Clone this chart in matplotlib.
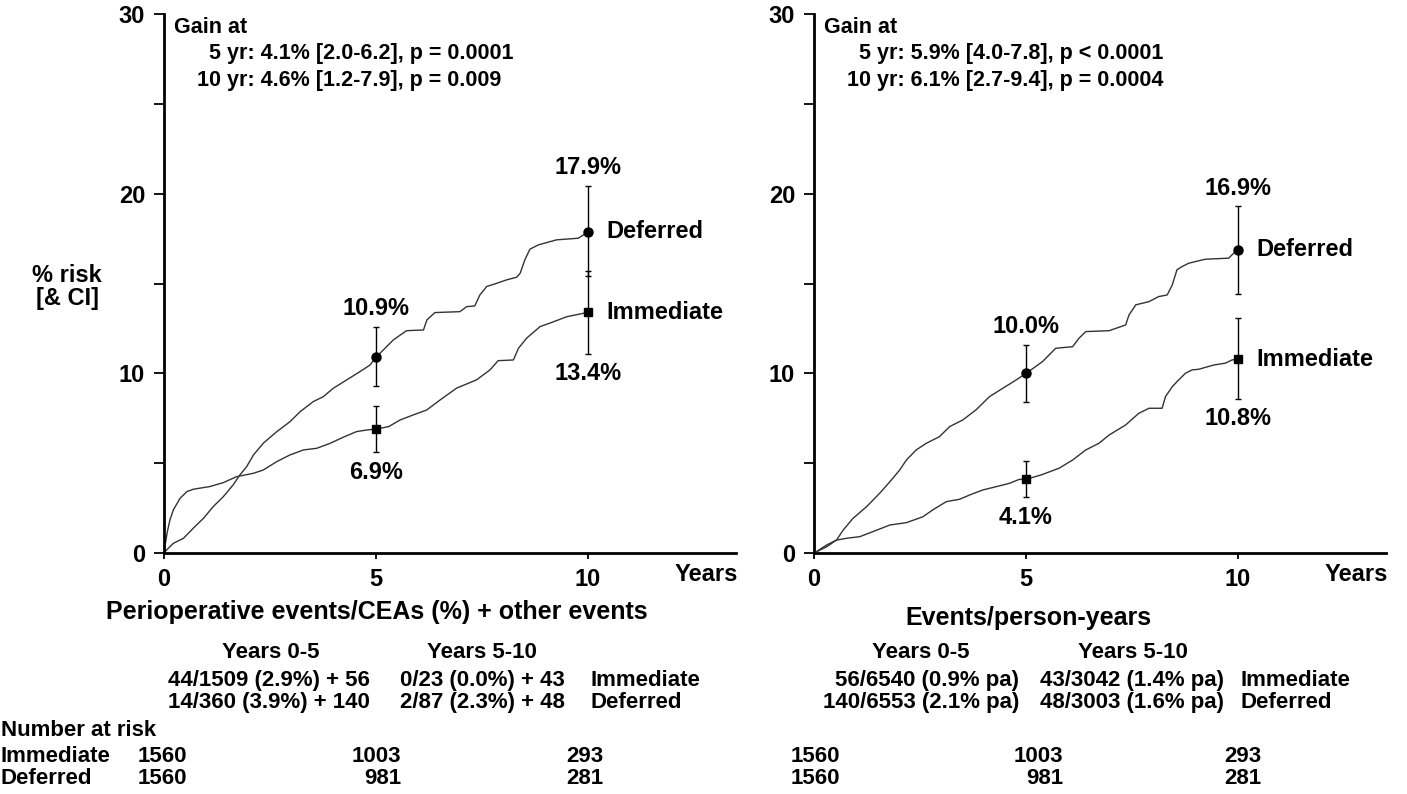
import numpy as np
import matplotlib
matplotlib.use('Agg')
import matplotlib.pyplot as plt

plt.rcParams['font.family'] = ['Liberation Sans', 'DejaVu Sans']
plt.rcParams['font.weight'] = 'bold'

# ---------------- data ----------------
# left panel: cumulative % risk
left_imm_t = [0, 0.02, 0.08, 0.14, 0.22, 0.38, 0.54, 0.69, 1.08, 1.40, 1.71, 2.11, 2.34, 2.66, 2.97,
              3.29, 3.60, 3.92, 4.23, 4.54, 4.78, 5.00, 5.30, 5.57, 5.88, 6.20, 6.51, 6.90, 7.37, 7.69,
              7.88, 8.24, 8.36, 8.55, 8.87, 9.10, 9.50, 9.81, 10.0]
left_imm_y = [0, 0.35, 1.2, 1.84, 2.4, 3.05, 3.42, 3.55, 3.70, 3.92, 4.25, 4.44, 4.62, 5.09, 5.46,
              5.74, 5.83, 6.11, 6.45, 6.76, 6.85, 6.9, 7.04, 7.41, 7.69, 7.97, 8.52, 9.18, 9.64, 10.2,
              10.71, 10.75, 11.4, 11.96, 12.61, 12.8, 13.16, 13.31, 13.4]
left_def_t = [0, 0.02, 0.22, 0.46, 0.69, 0.93, 1.16, 1.40, 1.63, 1.79, 1.95, 2.11, 2.34, 2.66, 2.97,
              3.21, 3.52, 3.76, 3.99, 4.31, 4.62, 4.86, 5.0, 5.41, 5.72, 6.12, 6.20, 6.39, 6.98, 7.14,
              7.33, 7.45, 7.61, 7.81, 8.08, 8.32, 8.40, 8.51, 8.63, 8.83, 9.26, 9.77, 9.93, 10.0]
left_def_y = [0, 0.07, 0.54, 0.82, 1.38, 1.93, 2.58, 3.14, 3.79, 4.35, 4.81, 5.46, 6.11, 6.76, 7.31,
              7.87, 8.43, 8.71, 9.17, 9.64, 10.1, 10.47, 10.9, 11.87, 12.38, 12.42, 12.98, 13.39, 13.44, 13.72,
              13.76, 14.37, 14.84, 14.99, 15.21, 15.36, 15.58, 16.32, 16.92, 17.16, 17.44, 17.53, 17.77, 17.9]

# right panel
right_def_t = [0, 0.02, 0.30, 0.53, 0.69, 0.92, 1.24, 1.55, 1.79, 2.02, 2.18, 2.41, 2.65, 2.96, 3.20,
               3.51, 3.82, 4.14, 4.45, 4.77, 5.0, 5.39, 5.70, 6.10, 6.25, 6.41, 6.96, 7.35, 7.43, 7.59,
               7.90, 8.13, 8.33, 8.45, 8.56, 8.68, 8.84, 9.23, 9.78, 9.90, 10.0]
right_def_y = [0, 0.02, 0.35, 0.72, 1.28, 1.93, 2.58, 3.33, 3.97, 4.62, 5.18, 5.74, 6.11, 6.48, 7.04,
               7.41, 7.97, 8.71, 9.17, 9.64, 10.0, 10.66, 11.40, 11.49, 11.96, 12.33, 12.38, 12.70, 13.26, 13.82,
               14.0, 14.28, 14.37, 14.93, 15.77, 15.95, 16.14, 16.36, 16.42, 16.70, 16.9]
right_imm_t = [0, 0.02, 0.30, 0.53, 0.77, 1.08, 1.39, 1.79, 2.18, 2.57, 2.80, 3.12, 3.43, 3.67, 3.98,
               4.29, 4.61, 4.84, 5.0, 5.36, 5.78, 6.10, 6.41, 6.72, 6.96, 7.35, 7.66, 7.90, 8.21, 8.29,
               8.45, 8.56, 8.76, 8.92, 9.07, 9.43, 9.70, 9.86, 10.0]
right_imm_y = [0, 0.02, 0.45, 0.72, 0.82, 0.91, 1.19, 1.56, 1.69, 2.02, 2.40, 2.86, 2.99, 3.23, 3.51,
               3.69, 3.88, 4.1, 4.1, 4.35, 4.72, 5.18, 5.74, 6.11, 6.57, 7.13, 7.78, 8.06, 8.06, 8.71,
               9.26, 9.54, 10.01, 10.2, 10.23, 10.47, 10.57, 10.75, 10.8]

# estimates at 5 and 10 years with confidence limits
est_years = [5, 10]
left_def_est, left_def_lo, left_def_hi = [10.9, 17.9], [9.3, 15.45], [12.6, 20.45]
left_imm_est, left_imm_lo, left_imm_hi = [6.9, 13.4], [5.6, 11.1], [8.2, 15.7]
right_def_est, right_def_lo, right_def_hi = [10.0, 16.9], [8.4, 14.4], [11.6, 19.3]
right_imm_est, right_imm_lo, right_imm_hi = [4.1, 10.8], [3.1, 8.6], [5.1, 13.1]

left_gain = ["Gain at", "5 yr: 4.1% [2.0-6.2], p = 0.0001", "10 yr: 4.6% [1.2-7.9], p = 0.009"]
right_gain = ["Gain at", "5 yr: 5.9% [4.0-7.8], p < 0.0001", "10 yr: 6.1% [2.7-9.4], p = 0.0004"]

left_title = "Perioperative events/CEAs (%) + other events"
right_title = "Events/person-years"
period_labels = ["Years 0-5", "Years 5-10"]
left_imm_events = ["44/1509 (2.9%) + 56", "0/23 (0.0%) + 43"]
left_def_events = ["14/360 (3.9%) + 140", "2/87 (2.3%) + 48"]
right_imm_events = ["56/6540 (0.9% pa)", "43/3042 (1.4% pa)"]
right_def_events = ["140/6553 (2.1% pa)", "48/3003 (1.6% pa)"]

at_risk_imm = [1560, 1003, 293]
at_risk_def = [1560, 981, 281]

# ---------------- figure ----------------
W, H = 1407, 794
fig = plt.figure(figsize=(W / 100, H / 100), dpi=100)


def fx(px):
    return px / W


def fy(py):
    return 1 - py / H


ax_l = fig.add_axes([fx(164), fy(553), fx(572.4), 538.7 / H])
ax_r = fig.add_axes([fx(814), fy(553), fx(572.4), 538.7 / H])


def draw_panel(ax, imm_t, imm_y, def_t, def_y, d_est, d_lo, d_hi, i_est, i_lo, i_hi, gain):
    ax.plot(imm_t, imm_y, color='#333333', lw=1.0)
    ax.plot(def_t, def_y, color='#333333', lw=1.0)

    d_est, d_lo, d_hi = map(np.array, (d_est, d_lo, d_hi))
    i_est, i_lo, i_hi = map(np.array, (i_est, i_lo, i_hi))
    ax.errorbar(est_years, d_est, yerr=[d_est - d_lo, d_hi - d_est], fmt='none',
                ecolor='black', elinewidth=1, capsize=2.5, capthick=1, clip_on=False)
    ax.errorbar(est_years, i_est, yerr=[i_est - i_lo, i_hi - i_est], fmt='none',
                ecolor='black', elinewidth=1, capsize=2.5, capthick=1, clip_on=False)
    ax.plot(est_years, d_est, 'o', color='black', ms=6.5, clip_on=False)
    ax.plot(est_years, i_est, 's', color='black', ms=6, clip_on=False)

    for x, v, hi in zip(est_years, d_est, d_hi):
        ax.text(x, hi + 1.0, f"{v:.1f}%", ha='center', va='center', fontsize=17)
    for x, v, lo in zip(est_years, i_est, i_lo):
        ax.text(x, lo - 1.1, f"{v:.1f}%", ha='center', va='center', fontsize=17)

    ax.annotate("Deferred", (est_years[-1], d_est[-1]), xytext=(13, 0),
                textcoords='offset points', ha='left', va='center', fontsize=17)
    ax.annotate("Immediate", (est_years[-1], i_est[-1]), xytext=(13, 0),
                textcoords='offset points', ha='left', va='center', fontsize=17)

    ax.text(0.24, 28.95, gain[0], ha='left', va='baseline', fontsize=15.5)
    ax.text(1.06, 27.5, gain[1], ha='left', va='baseline', fontsize=15.5)
    ax.text(0.78, 25.98, gain[2], ha='left', va='baseline', fontsize=15.5)

    ax.set_xlim(0, 13.5)
    ax.set_ylim(0, 30)
    ax.set_xticks([0, 5, 10])
    ax.set_yticks([0, 5, 10, 15, 20, 25, 30])
    ax.set_yticklabels(['0', '', '10', '', '20', '', '30'])
    for s in ['top', 'right']:
        ax.spines[s].set_visible(False)
    for s in ['left', 'bottom']:
        ax.spines[s].set_linewidth(2)
    ax.tick_params(axis='y', length=7.5, width=1.3, pad=6, labelsize=17)
    ax.tick_params(axis='x', length=4.5, width=1.3, pad=6, labelsize=17)


draw_panel(ax_l, left_imm_t, left_imm_y, left_def_t, left_def_y,
           left_def_est, left_def_lo, left_def_hi, left_imm_est, left_imm_lo, left_imm_hi, left_gain)
draw_panel(ax_r, right_imm_t, right_imm_y, right_def_t, right_def_y,
           right_def_est, right_def_lo, right_def_hi, right_imm_est, right_imm_lo, right_imm_hi, right_gain)

# axis labels
fig.text(fx(67), fy(287), "% risk\n[& CI]", ha='center', va='center', fontsize=17, linespacing=1.0)
fig.text(fx(738), fy(581), "Years", ha='right', va='baseline', fontsize=17)
fig.text(fx(1388), fy(581), "Years", ha='right', va='baseline', fontsize=17)

# left-hand event summary
fig.text(fx(377), fy(619), left_title, ha='center', va='baseline', fontsize=18)
fig.text(fx(271), fy(658), period_labels[0], ha='center', va='baseline', fontsize=16)
fig.text(fx(482), fy(658), period_labels[1], ha='center', va='baseline', fontsize=16)
fig.text(fx(370), fy(686), left_imm_events[0], ha='right', va='baseline', fontsize=16)
fig.text(fx(370), fy(708), left_def_events[0], ha='right', va='baseline', fontsize=16)
fig.text(fx(400), fy(686), left_imm_events[1], ha='left', va='baseline', fontsize=16)
fig.text(fx(400), fy(708), left_def_events[1], ha='left', va='baseline', fontsize=16)
fig.text(fx(590), fy(686), "Immediate", ha='left', va='baseline', fontsize=16)
fig.text(fx(590), fy(708), "Deferred", ha='left', va='baseline', fontsize=16)

# right-hand event summary
fig.text(fx(1028), fy(625), right_title, ha='center', va='baseline', fontsize=18)
fig.text(fx(921), fy(658), period_labels[0], ha='center', va='baseline', fontsize=16)
fig.text(fx(1133), fy(658), period_labels[1], ha='center', va='baseline', fontsize=16)
fig.text(fx(1019), fy(686), right_imm_events[0], ha='right', va='baseline', fontsize=16)
fig.text(fx(1019), fy(708), right_def_events[0], ha='right', va='baseline', fontsize=16)
fig.text(fx(1040), fy(686), right_imm_events[1], ha='left', va='baseline', fontsize=16)
fig.text(fx(1040), fy(708), right_def_events[1], ha='left', va='baseline', fontsize=16)
fig.text(fx(1240), fy(686), "Immediate", ha='left', va='baseline', fontsize=16)
fig.text(fx(1240), fy(708), "Deferred", ha='left', va='baseline', fontsize=16)

# number at risk
fig.text(fx(1), fy(736), "Number at risk", ha='left', va='baseline', fontsize=16)
fig.text(fx(1), fy(762), "Immediate", ha='left', va='baseline', fontsize=16)
fig.text(fx(1), fy(784), "Deferred", ha='left', va='baseline', fontsize=16)
for xs in ([187, 401, 603], [840, 1063, 1261]):
    for px, ni, nd in zip(xs, at_risk_imm, at_risk_def):
        fig.text(fx(px), fy(762), str(ni), ha='right', va='baseline', fontsize=16)
        fig.text(fx(px), fy(784), str(nd), ha='right', va='baseline', fontsize=16)

fig.savefig('out.png', dpi=100)
